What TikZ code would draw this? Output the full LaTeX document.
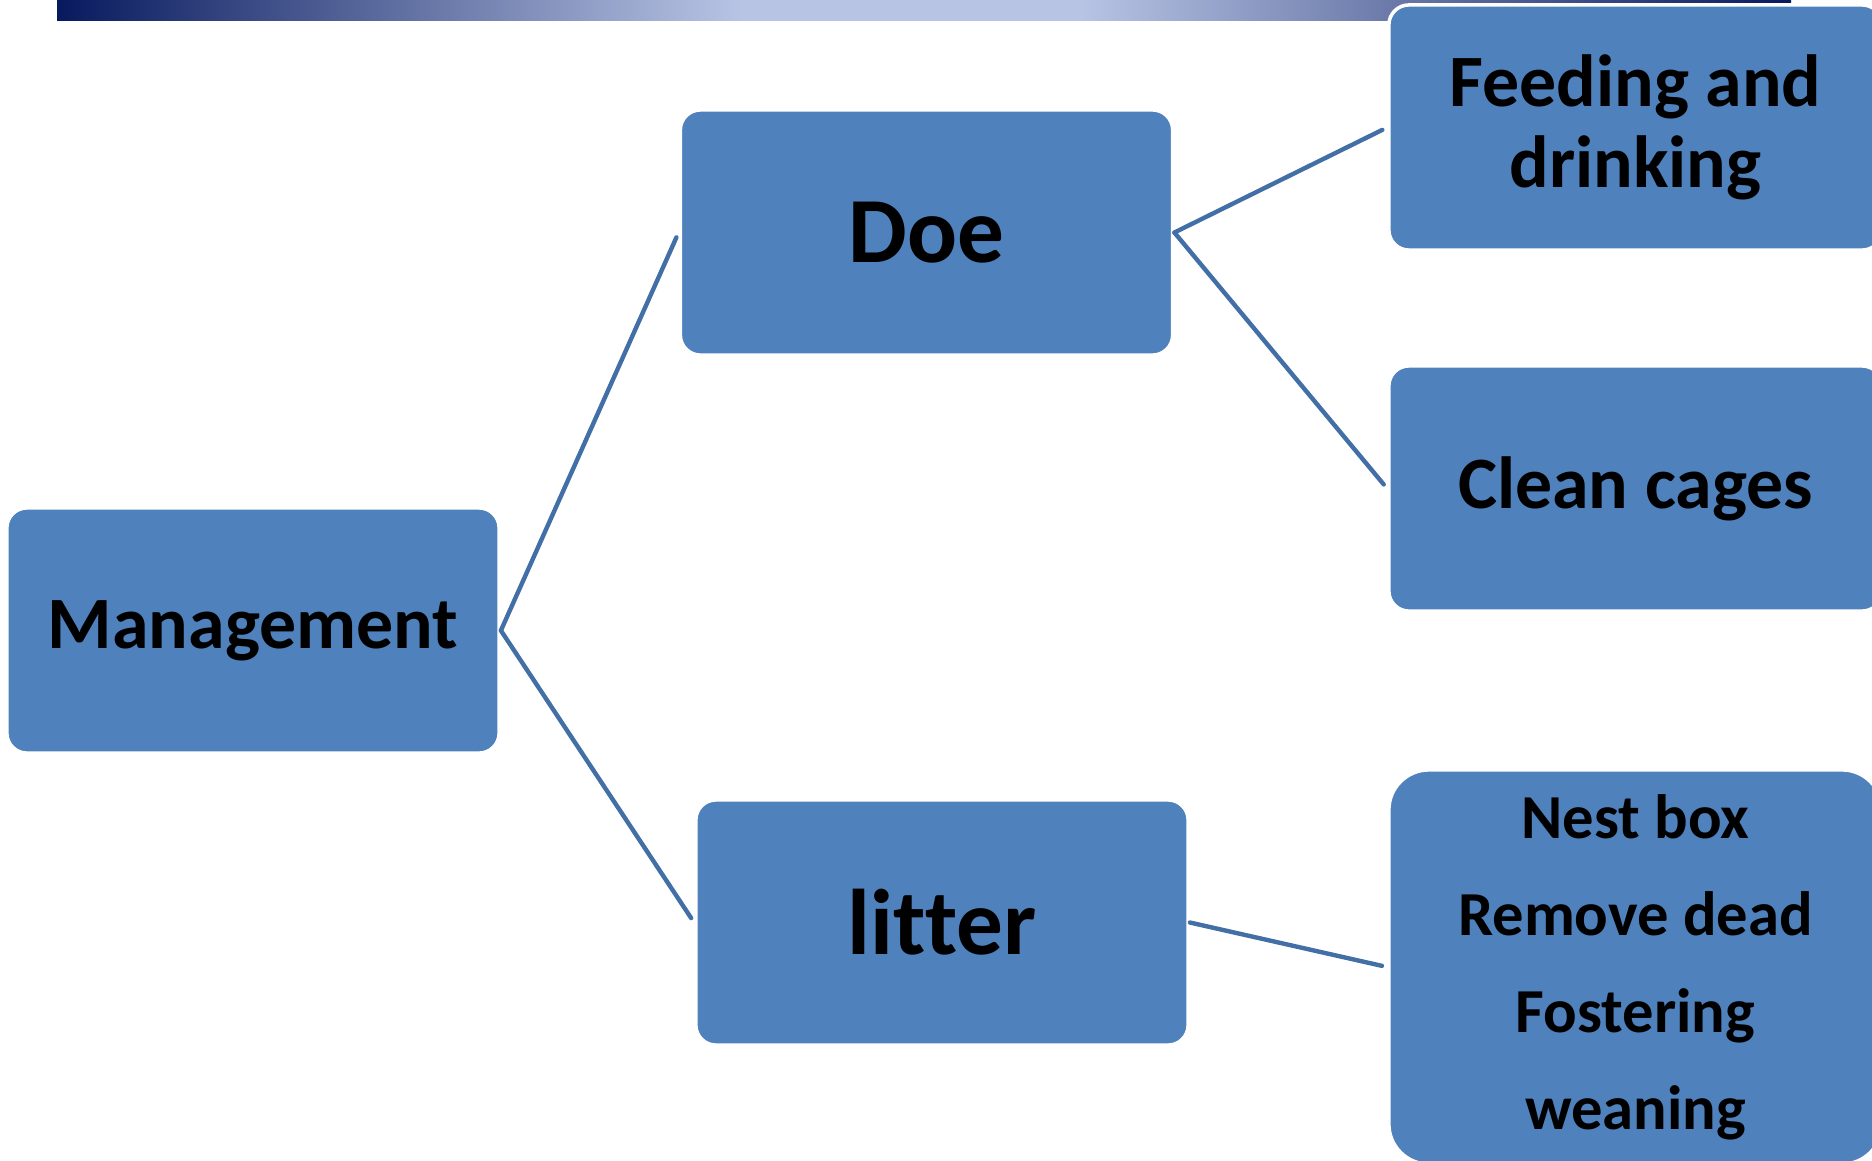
\documentclass[tikz,border=0pt]{standalone}
\usepackage{fontspec}
\setmainfont{Carlito}[Ligatures=NoCommon]
\definecolor{barnavy}{RGB}{8,26,94}
\definecolor{barlight}{RGB}{184,196,228}
\definecolor{boxblue}{RGB}{79,129,189}
\definecolor{linkblue}{RGB}{66,111,166}
\pgfdeclarehorizontalshading{topbar}{100bp}{color(0bp)=(barnavy); color(25bp)=(barnavy); color(44.7bp)=(barlight); color(54.5bp)=(barlight); color(75bp)=(barnavy); color(100bp)=(barnavy)}

\begin{document}
\begin{tikzpicture}[x=0.01cm, y=-0.01cm, line join=round, line cap=round,
	box/.style={rectangle, rounded corners=0.2cm, fill=boxblue, draw=white, line width=1pt,
		minimum width=4.92cm, minimum height=2.45cm, inner sep=0pt, align=center,
		text=black, font=\bfseries\fontsize{21}{23}\selectfont},
	bigbox/.style={box, font=\bfseries\fontsize{26.5}{30}\selectfont},
	link/.style={linkblue, line width=1.25pt, shorten >=1.5pt}]
	\useasboundingbox (0,0) rectangle (1872,1160);
	
	% thanh tieu de phia tren
	\fill[shading=topbar] (57,0) rectangle (1791,20);
	
	% cac hop
	\node[box] (mgmt) at (253,630.5) {Management};
	\node[bigbox] (doe) at (926.5,232.5) {Doe};
	\node[bigbox] (litter) at (942,922.5) {litter};
	\node[box, minimum width=4.93cm] (feed) at (1635.5,127.5) {Feeding and\\drinking};
	\node[box, minimum width=4.93cm] (clean) at (1635.5,488.5) {Clean cages};
	\node[box, minimum width=4.93cm, minimum height=3.94cm, rounded corners=0.4cm,
		font=\bfseries\fontsize{17.8}{27.6}\selectfont] (nest) at (1635.5,967)
		{Nest box\\Remove dead\\Fostering\\weaning};
	
	% cac duong noi
	\draw[link] (mgmt.east) -- (doe.west);
	\draw[link] (mgmt.east) -- (litter.west);
	\draw[link] (doe.east) -- (feed.west);
	\draw[link] (doe.east) -- (clean.west);
	\draw[link] (litter.east) -- (nest.west);
\end{tikzpicture}
\end{document}
